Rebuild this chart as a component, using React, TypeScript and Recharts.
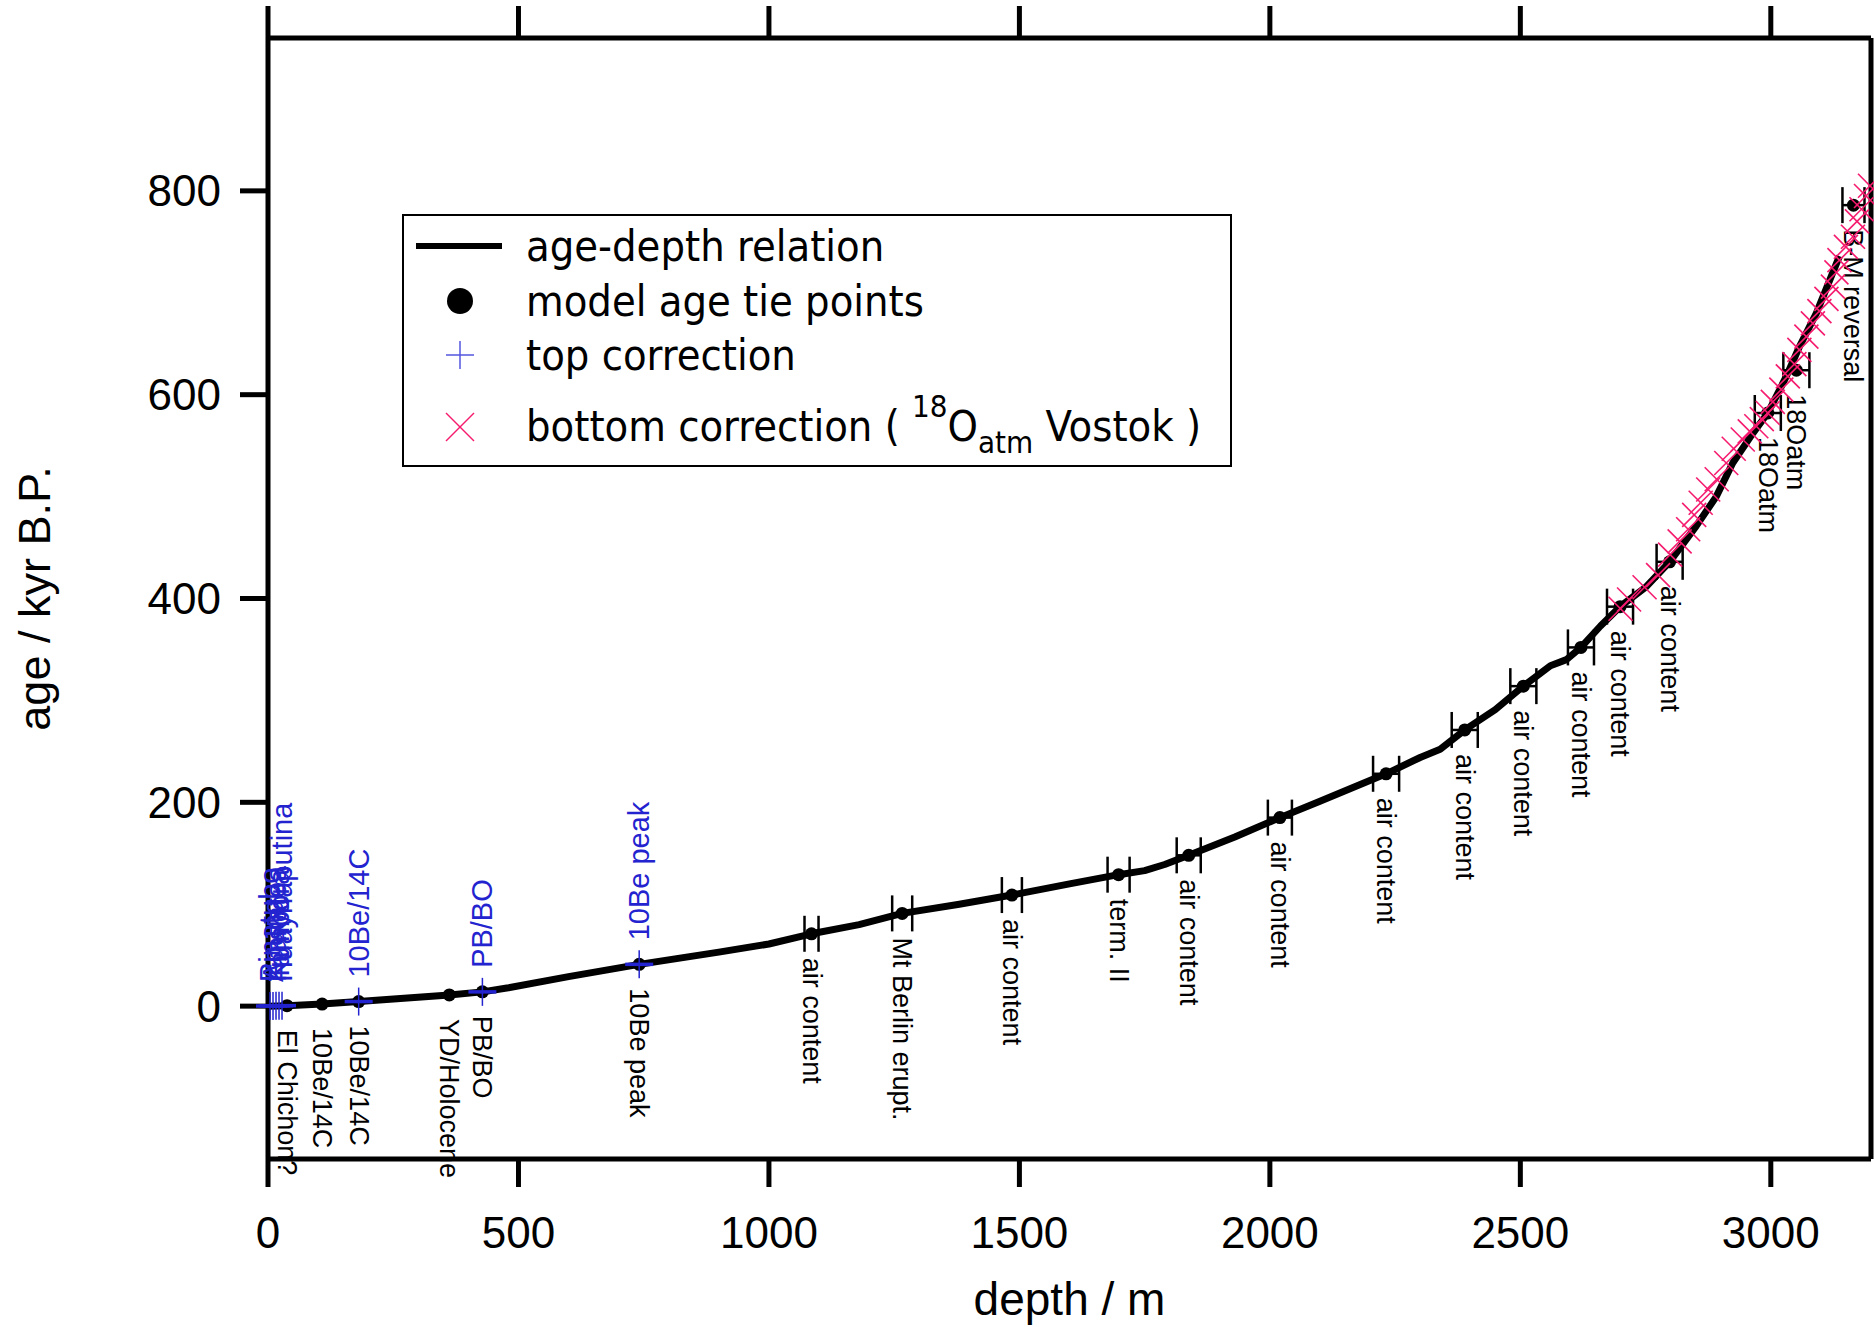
import { ComposedChart, Line, Scatter, XAxis, YAxis, ErrorBar, Customized } from "recharts";

const FONT = "'Liberation Sans', Arial, Helvetica, sans-serif";
const LEGEND_FONT = "'DejaVu Sans Condensed', 'Liberation Sans Narrow', 'Liberation Sans', sans-serif";
const BLUE = "#2323cf";
const PINK = "#f51b6f";

const depthTicks = [0, 500, 1000, 1500, 2000, 2500, 3000];
const ageTicks = [0, 200, 400, 600, 800];

// age-depth relation
const lineDepth = [0, 38, 108, 181, 362, 428, 480, 600, 741, 900, 1000, 1085, 1180, 1266, 1380, 1485, 1600, 1698, 1750, 1790, 1838, 1930, 2020, 2100, 2232, 2300, 2340, 2389, 2450, 2506, 2560, 2592, 2621, 2660, 2699, 2750, 2798, 2851, 2891, 2924, 2964, 2994, 3031, 3057, 3091, 3137];
const lineAge = [0, 0.5, 2, 4.5, 11, 14, 18, 29, 41, 53, 61, 71, 80, 91, 100, 109, 120, 129, 133, 139, 148, 166, 185, 201, 228, 244, 252, 271, 291, 314, 334, 340, 352, 373, 392, 411, 436, 471, 500, 533, 562, 582, 618, 647, 680, 736];

// model age tie points (err = depth uncertainty, 0 = none drawn)
const tieDepth = [38, 108, 181, 362, 428, 741, 1085, 1266, 1485, 1698, 1838, 2020, 2232, 2389, 2506, 2621, 2699, 2798, 2994, 3051, 3165];
const tieAge = [0.5, 2, 4.5, 11, 14, 41, 71, 91, 109, 129, 148, 185, 228, 271, 314, 352, 392, 436, 582, 624, 786];
const tieErr = [0, 0, 0, 0, 0, 0, 14, 20, 20, 22, 24, 24, 26, 26, 26, 26, 26, 26, 26, 26, 22];
const tieLabel = ["El Chichon?", "10Be/14C", "10Be/14C", "YD/Holocene", "PB/BO", "10Be peak", "air content", "Mt Berlin erupt.", "air content", "term. II", "air content", "air content", "air content", "air content", "air content", "air content", "air content", "air content", "18Oatm", "18Oatm", "B-M reversal"];

// top correction
const topDepth = [4, 10, 16, 22, 28, 181, 428, 741];
const topAge = [0.1, 0.2, 0.3, 0.4, 0.5, 4.5, 14, 41];
const topLabel = ["Pinatubo", "Agung", "Krakatoa", "Tambora", "Huaynaputina", "10Be/14C", "PB/BO", "10Be peak"];

// bottom correction (18Oatm Vostok)
const bottomDepth = [2700, 2717, 2748, 2775, 2799, 2818, 2835, 2847, 2860, 2875, 2892, 2911, 2926, 2944, 2958, 2971, 2982, 2994, 3004, 3021, 3034, 3047, 3057, 3071, 3084, 3097, 3111, 3124, 3131, 3137, 3150, 3164, 3172, 3181, 3190, 3198];
const bottomAge = [390, 399, 411, 423, 443, 456, 468, 482, 494, 507, 517, 533, 547, 556, 564, 569, 576, 582, 593, 605, 618, 630, 644, 657, 670, 682, 694, 706, 720, 732, 745, 755, 770, 782, 795, 805];

const lineData = lineDepth.map((d, i) => ({ depth: d, age: lineAge[i] }));
const tieData = tieDepth.map((d, i) => ({ depth: d, age: tieAge[i], err: tieErr[i], label: tieLabel[i] }));
const tiePlain = tieData.filter((t) => t.err === 0);
const tieWithErr = tieData.filter((t) => t.err > 0);
const topData = topDepth.map((d, i) => ({ depth: d, age: topAge[i], label: topLabel[i] }));
const bottomData = bottomDepth.map((d, i) => ({ depth: d, age: bottomAge[i] }));

const TiePoint = (p: any) => (
  <g>
    <circle cx={p.cx} cy={p.cy} r={6.5} fill="#000" />
    <text
      transform={`translate(${p.cx},${p.cy + 24}) rotate(90)`}
      dominantBaseline="central"
      fontSize={27}
      fontFamily={FONT}
      fill="#000"
    >
      {p.payload.label}
    </text>
  </g>
);

const TopPoint = (p: any) => (
  <g>
    <line x1={p.cx - 14} x2={p.cx + 14} y1={p.cy} y2={p.cy} stroke={BLUE} strokeWidth={3.5} />
    <line x1={p.cx} x2={p.cx} y1={p.cy - 14} y2={p.cy + 14} stroke={BLUE} strokeWidth={1.5} />
    <text
      transform={`translate(${p.cx},${p.cy - 24}) rotate(-90)`}
      dominantBaseline="central"
      fontSize={29}
      fontFamily={FONT}
      fill={BLUE}
    >
      {p.payload.label}
    </text>
  </g>
);

const Cross = (p: any) => (
  <g stroke={PINK} strokeWidth={1.6}>
    <line x1={p.cx - 12} y1={p.cy - 12} x2={p.cx + 12} y2={p.cy + 12} />
    <line x1={p.cx - 12} y1={p.cy + 12} x2={p.cx + 12} y2={p.cy - 12} />
  </g>
);

const XTitle = ({ viewBox }: any) => (
  <text x={viewBox.x + viewBox.width / 2} y={viewBox.y + 156} textAnchor="middle" fontSize={46} fontFamily={FONT} fill="#000">
    depth / m
  </text>
);

const YTitle = ({ viewBox }: any) => {
  const x = viewBox.x + 50;
  const y = viewBox.y + viewBox.height / 2;
  return (
    <text transform={`translate(${x},${y}) rotate(-90)`} textAnchor="middle" fontSize={45} fontFamily={FONT} fill="#000">
      age / kyr B.P.
    </text>
  );
};

const LegendBox = () => {
  const tx = 526;
  return (
    <g fontFamily={LEGEND_FONT} fontSize={43} fill="#000">
      <rect x={403} y={215} width={828} height={251} fill="#fff" stroke="#000" strokeWidth={2} />
      <line x1={416} x2={502} y1={246} y2={246} stroke="#000" strokeWidth={6} />
      <text x={tx} y={246} dominantBaseline="central">age-depth relation</text>
      <circle cx={460} cy={301} r={13} fill="#000" />
      <text x={tx} y={301} dominantBaseline="central">model age tie points</text>
      <line x1={446} x2={474} y1={355} y2={355} stroke="#5555e0" strokeWidth={1.5} />
      <line x1={460} x2={460} y1={341} y2={369} stroke="#5555e0" strokeWidth={1.5} />
      <text x={tx} y={355} dominantBaseline="central">top correction</text>
      <line x1={446} x2={474} y1={413} y2={441} stroke={PINK} strokeWidth={1.5} />
      <line x1={446} x2={474} y1={441} y2={413} stroke={PINK} strokeWidth={1.5} />
      <text x={tx} y={441}>
        {"bottom correction ( "}
        <tspan fontSize={31} dy={-24}>18</tspan>
        <tspan dy={24}>O</tspan>
        <tspan fontSize={31} dy={12}>atm</tspan>
        <tspan dy={-12}>{"  Vostok  )"}</tspan>
      </text>
    </g>
  );
};

const axisLine = { stroke: "#000", strokeWidth: 5 };
const tickStyle = { fill: "#000", fontSize: 44, fontFamily: FONT };

export default function App() {
  return (
    <div style={{ position: "absolute", left: 0, top: 0, background: "#fff" }}>
      <ComposedChart width={1874} height={1327} margin={{ top: 37, right: 2, bottom: 0, left: 0 }}>
        <XAxis
          type="number"
          dataKey="depth"
          domain={[0, 3200]}
          ticks={depthTicks}
          height={168}
          axisLine={axisLine}
          tickLine={axisLine}
          tickSize={28}
          tickMargin={30}
          tick={tickStyle}
          label={<XTitle />}
        />
        <XAxis
          xAxisId="top"
          orientation="top"
          type="number"
          dataKey="depth"
          domain={[0, 3200]}
          ticks={depthTicks}
          height={1}
          axisLine={axisLine}
          tickLine={axisLine}
          tickSize={32}
          interval={0}
          tick={() => <g />}
        />
        <YAxis
          type="number"
          dataKey="age"
          domain={[-150, 950]}
          ticks={ageTicks}
          width={268}
          axisLine={axisLine}
          tickLine={axisLine}
          tickSize={28}
          tickMargin={19}
          tick={tickStyle}
          label={<YTitle />}
        />
        <YAxis
          yAxisId="right"
          orientation="right"
          type="number"
          dataKey="age"
          domain={[-150, 950]}
          ticks={ageTicks}
          width={1}
          axisLine={axisLine}
          tickLine={false}
          tick={() => <g />}
        />
        {/* invisible series so the top/right frame axes get a scale */}
        <Line
          xAxisId="top"
          yAxisId="right"
          data={lineData}
          dataKey="age"
          stroke="none"
          dot={false}
          legendType="none"
          isAnimationActive={false}
        />
        <Line
          data={lineData}
          dataKey="age"
          stroke="#000"
          strokeWidth={7}
          strokeLinejoin="round"
          dot={false}
          isAnimationActive={false}
        />
        <Scatter data={tiePlain} dataKey="age" shape={TiePoint} isAnimationActive={false} />
        <Scatter data={tieWithErr} dataKey="age" shape={TiePoint} isAnimationActive={false}>
          <ErrorBar dataKey="err" direction="x" width={18} stroke="#000" strokeWidth={2.5} />
        </Scatter>
        <Scatter data={topData} dataKey="age" shape={TopPoint} isAnimationActive={false} />
        <Scatter data={bottomData} dataKey="age" shape={Cross} isAnimationActive={false} />
        <Customized component={LegendBox} />
      </ComposedChart>
    </div>
  );
}
